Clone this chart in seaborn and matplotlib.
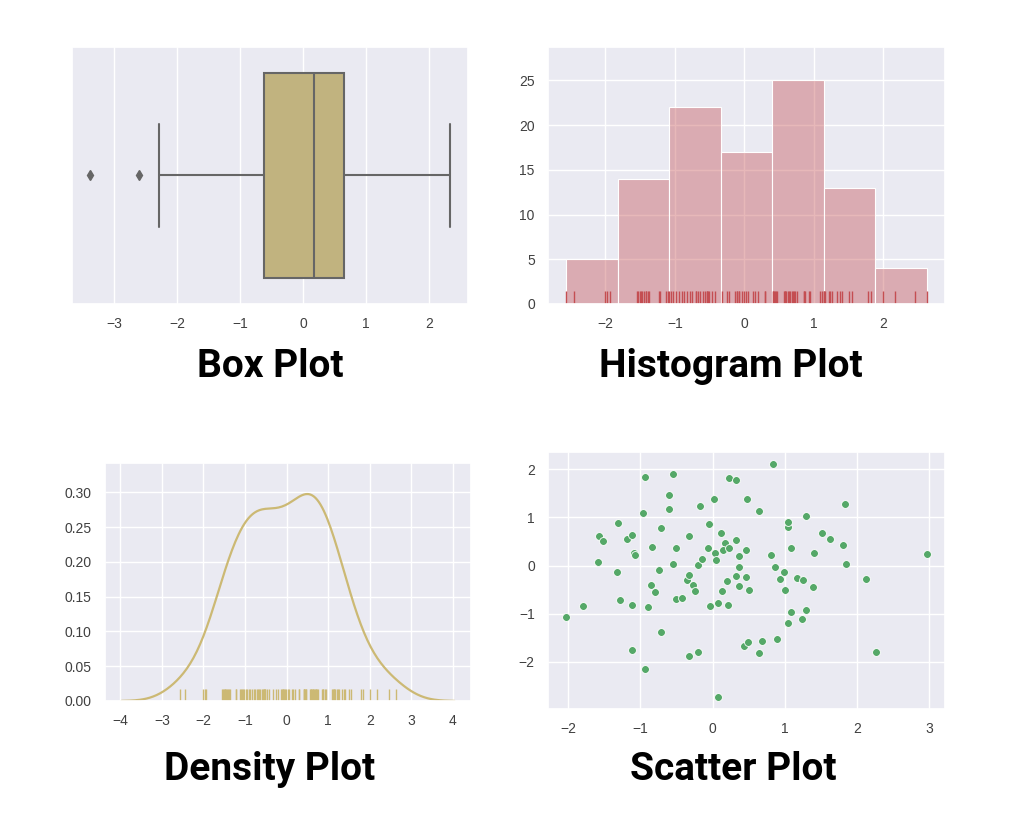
import numpy as np
import matplotlib
matplotlib.use("Agg")
from matplotlib import pyplot as plt
import seaborn as sns

# box plot sample (read from box / whiskers / fliers)
box_vals = [-3.38, -2.60, -2.29, -1.50, -0.90, -0.62, -0.40, -0.20, 0.00, 0.10,
            0.174, 0.30, 0.40, 0.50, 0.58, 0.643, 0.90, 1.20, 1.60, 2.00, 2.33]

hist_vals = [-2.567, -2.448, -2.005, -1.972, -1.938,
             -1.543, -1.530, -1.508, -1.490, -1.471, -1.450, -1.423, -1.410, -1.390,
             -1.372, -1.228, -1.215, -1.122, -1.100,
             -1.080, -1.061, -1.028, -0.979, -0.942, -0.904, -0.871, -0.822, -0.785,
             -0.750, -0.703, -0.690, -0.665, -0.632, -0.599, -0.560, -0.545, -0.536,
             -0.520, -0.513, -0.464, -0.417,
             -0.321, -0.250, -0.217, -0.141, -0.107, -0.100, -0.080, -0.074, -0.035,
             -0.007, 0.026, 0.055, 0.122, 0.159, 0.198, 0.294, 0.300,
             0.405, 0.410, 0.422, 0.445, 0.460, 0.470, 0.565, 0.580, 0.590, 0.598,
             0.627, 0.640, 0.660, 0.684, 0.700, 0.708, 0.731, 0.756, 0.851, 0.865,
             0.874, 0.923, 0.946, 1.089, 1.113,
             1.148, 1.150, 1.160, 1.218, 1.230, 1.256, 1.328, 1.375, 1.404, 1.500,
             1.547, 1.776, 1.824,
             2.000, 2.167, 2.462, 2.629]

# scatter points
scatter_x = [-2.03, -1.80, -1.58, -1.52, -1.59, -1.31, -1.33, -1.29, -1.19, -1.12,
             -1.09, -1.08, -1.12, -1.12, -0.96, -0.93, -0.93, -0.89, -0.86, -0.84,
             -0.80, -0.74, -0.71, -0.71, -0.61, -0.61, -0.55, -0.55, -0.51, -0.51,
             -0.42, -0.36, -0.33, -0.33, -0.33, -0.27, -0.25, -0.20, -0.18, -0.20,
             -0.15, -0.06, -0.05, -0.04, 0.02, 0.03, 0.05, 0.08, 0.07, 0.11,
             0.13, 0.17, 0.15, 0.20, 0.23, 0.21, 0.23, 0.32, 0.32, 0.33,
             0.36, 0.36, 0.36, 0.46, 0.46, 0.48, 0.51, 0.44, 0.49, 0.64,
             0.64, 0.68, 0.81, 0.84, 0.86, 0.89, 0.94, 0.99, 1.00, 1.04,
             1.05, 1.05, 1.09, 1.09, 1.17, 1.25, 1.24, 1.29, 1.30, 1.39,
             1.40, 1.52, 1.63, 1.80, 1.83, 1.85, 2.13, 2.26, 2.97]
scatter_y = [-1.07, -0.84, 0.61, 0.51, 0.07, 0.88, -0.13, -0.72, 0.56, 0.63,
             0.26, 0.21, -0.82, -1.75, 1.10, 1.85, -2.15, -0.87, -0.40, 0.39,
             -0.55, -0.10, 0.79, -1.39, 1.46, 1.18, 1.90, 0.04, 0.37, -0.70,
             -0.68, -0.30, -0.20, 0.61, -1.88, -0.41, -0.52, 0.01, 1.23, -1.79,
             0.14, 0.37, 0.86, -0.84, 1.38, 0.27, 0.12, -0.77, -2.74, 0.68,
             -0.53, 0.47, 0.33, -0.33, 0.37, -0.82, 1.83, 0.54, -0.21, 1.77,
             0.19, -0.03, -0.43, 0.32, -0.23, 1.38, -0.50, -1.68, -1.59, 1.13,
             -1.81, -1.56, 0.21, 2.12, -0.03, -1.53, -0.28, -0.13, -0.50, -1.19,
             0.81, 0.91, 0.36, -0.97, -0.26, -0.30, -1.12, 1.03, -0.92, -0.45,
             0.26, 0.68, 0.56, 0.43, 1.28, 0.04, -0.28, -1.79, 0.24]

titles = ["Box Plot", "Histogram Plot", "Density Plot", "Scatter Plot"]

sns.set_theme(style="darkgrid", color_codes=True)
plt.rcParams["font.family"] = ["Liberation Sans", "DejaVu Sans"]

fig = plt.figure(figsize=(10.24, 8.24), dpi=100)
fig.patch.set_facecolor("white")

ax1 = fig.add_axes([0.0703, 0.6311, 0.3867, 0.3119])
ax2 = fig.add_axes([0.5352, 0.6311, 0.3877, 0.3119])
ax3 = fig.add_axes([0.1025, 0.1493, 0.3574, 0.2888])
ax4 = fig.add_axes([0.5352, 0.1396, 0.3877, 0.3119])

# box plot
sns.boxplot(x=box_vals, color="y", saturation=0.75, linecolor="0.4", linewidth=1.5,
            width=0.8, ax=ax1,
            flierprops=dict(marker="d", markerfacecolor="0.4", markeredgecolor="0.4",
                            markersize=5))

# histogram + rug
sns.histplot(x=hist_vals, bins=7, color="r", alpha=0.4, edgecolor="white",
             linewidth=0.8, ax=ax2)
sns.rugplot(x=hist_vals, color="r", height=0.05, linewidth=1, ax=ax2)
ax2.set_ylabel("")
ax2.set_yticks([0, 5, 10, 15, 20, 25])

# density + rug
sns.kdeplot(x=hist_vals, color="y", linewidth=1.6, bw_adjust=1.05, ax=ax3)
sns.rugplot(x=hist_vals, color="y", height=0.05, linewidth=1, ax=ax3)
ax3.set_ylim(bottom=0)
ax3.set_xticks(range(-4, 5))
ax3.set_ylabel("")

# scatter
sns.scatterplot(x=scatter_x, y=scatter_y, color="g", s=32, edgecolor="white",
                linewidth=0.6, ax=ax4)

for ax in [ax1, ax2, ax3, ax4]:
    ax.tick_params(labelsize=10, colors="0.25")

pos = [(270, 377), (731, 377), (270, 780), (733, 780)]
for t, (x, y) in zip(titles, pos):
    fig.text(x / 1024, 1 - y / 824, t, ha="center", va="baseline", color="black",
             fontsize=28, fontweight="bold", family=["Roboto", "DejaVu Sans"])

plt.savefig("out.png", dpi=100, facecolor="white")
